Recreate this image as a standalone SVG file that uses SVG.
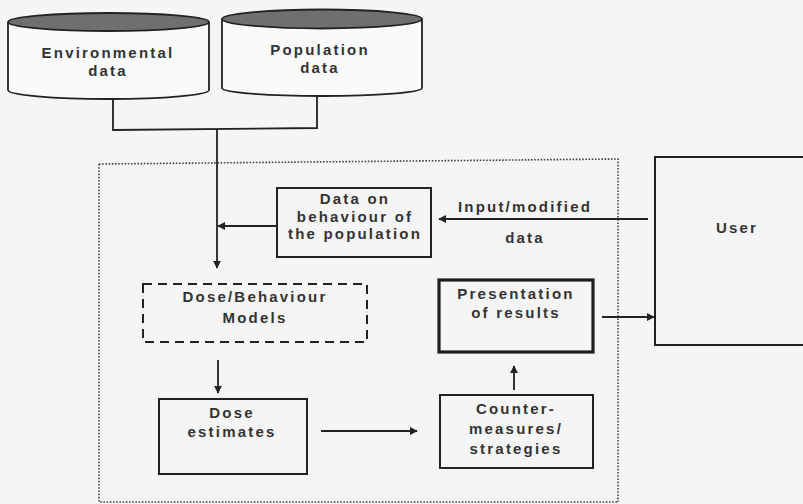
<svg xmlns="http://www.w3.org/2000/svg" width="803" height="504" viewBox="0 0 803 504">
<style>
.t{font-family:"Liberation Sans",Arial,sans-serif;font-weight:bold;font-size:15px;fill:#333;text-anchor:middle;letter-spacing:2.2px}
.box{fill:none;stroke:#222;stroke-width:2}
.ln{fill:none;stroke:#222;stroke-width:1.8}
</style>
<defs>
<marker id="ah" viewBox="0 0 10 10" refX="9" refY="5" markerWidth="8" markerHeight="8" markerUnits="userSpaceOnUse" orient="auto">
<path d="M0,0 L10,5 L0,10 z" fill="#222"/>
</marker>
</defs>
<rect width="803" height="504" fill="#f5f5f5"/>
<g id="system-boundary">
<path d="M99,164 L618,159 L618,502 M99,164 L99,502 L618,502" fill="none" stroke="#444" stroke-width="1.6" stroke-dasharray="1.6 1.6"/>
</g>
<g id="environmental-data">
<path d="M8,22 L8,90 A100.5,9 0 0 0 209,90 L209,22" fill="#fafafa" stroke="#222" stroke-width="1.8"/>
<ellipse cx="108.5" cy="22" rx="100.5" ry="9" fill="#6f6f6f" stroke="#222" stroke-width="1.8"/>
<text class="t" x="108" y="58">Environmental</text>
<text class="t" x="108" y="76">data</text>
</g>
<g id="population-data">
<path d="M222,19 L222,88 A100,8 0 0 0 422,88 L422,19" fill="#fafafa" stroke="#222" stroke-width="1.8"/>
<ellipse cx="322" cy="19" rx="100" ry="9.5" fill="#6f6f6f" stroke="#222" stroke-width="1.8"/>
<text class="t" x="320" y="55">Population</text>
<text class="t" x="320" y="73">data</text>
</g>
<g id="data-on-behaviour">
<rect class="box" x="277" y="188" width="154" height="69"/>
<text class="t" x="355" y="204">Data on</text>
<text class="t" x="355" y="222">behaviour of</text>
<text class="t" x="355" y="239">the population</text>
</g>
<g id="dose-behaviour-models">
<rect x="143" y="284" width="224" height="58" fill="none" stroke="#222" stroke-width="2" stroke-dasharray="9 6"/>
<text class="t" x="255" y="302">Dose/Behaviour</text>
<text class="t" x="255" y="323">Models</text>
</g>
<g id="dose-estimates">
<rect class="box" x="159" y="399" width="148" height="75"/>
<text class="t" x="232" y="418">Dose</text>
<text class="t" x="232" y="437">estimates</text>
</g>
<g id="countermeasures">
<rect class="box" x="440" y="395" width="153" height="73"/>
<text class="t" x="516" y="414">Counter-</text>
<text class="t" x="516" y="434">measures/</text>
<text class="t" x="516" y="454">strategies</text>
</g>
<g id="presentation">
<rect x="439" y="280" width="154" height="72" fill="none" stroke="#1e1e1e" stroke-width="3.2"/>
<text class="t" x="516" y="299">Presentation</text>
<text class="t" x="516" y="318">of results</text>
</g>
<g id="user">
<rect class="box" x="655" y="157" width="160" height="188"/>
<text class="t" x="737" y="233">User</text>
</g>
<g id="connectors">
<path class="ln" d="M113,99 L113,130 L317,128 L317,96"/>
<path class="ln" d="M217,129 L217,268" marker-end="url(#ah)"/>
<path class="ln" d="M277,226 L218,226" marker-end="url(#ah)"/>
<path class="ln" d="M648,219 L439,219" marker-end="url(#ah)"/>
<text class="t" x="525" y="212">Input/modified</text>
<text class="t" x="525" y="243">data</text>
<path class="ln" d="M602,317 L654,317" marker-end="url(#ah)"/>
<path class="ln" d="M218,360 L218,393" marker-end="url(#ah)"/>
<path class="ln" d="M321,431 L417,431" marker-end="url(#ah)"/>
<path class="ln" d="M514,390 L514,366" marker-end="url(#ah)"/>
</g>
</svg>
